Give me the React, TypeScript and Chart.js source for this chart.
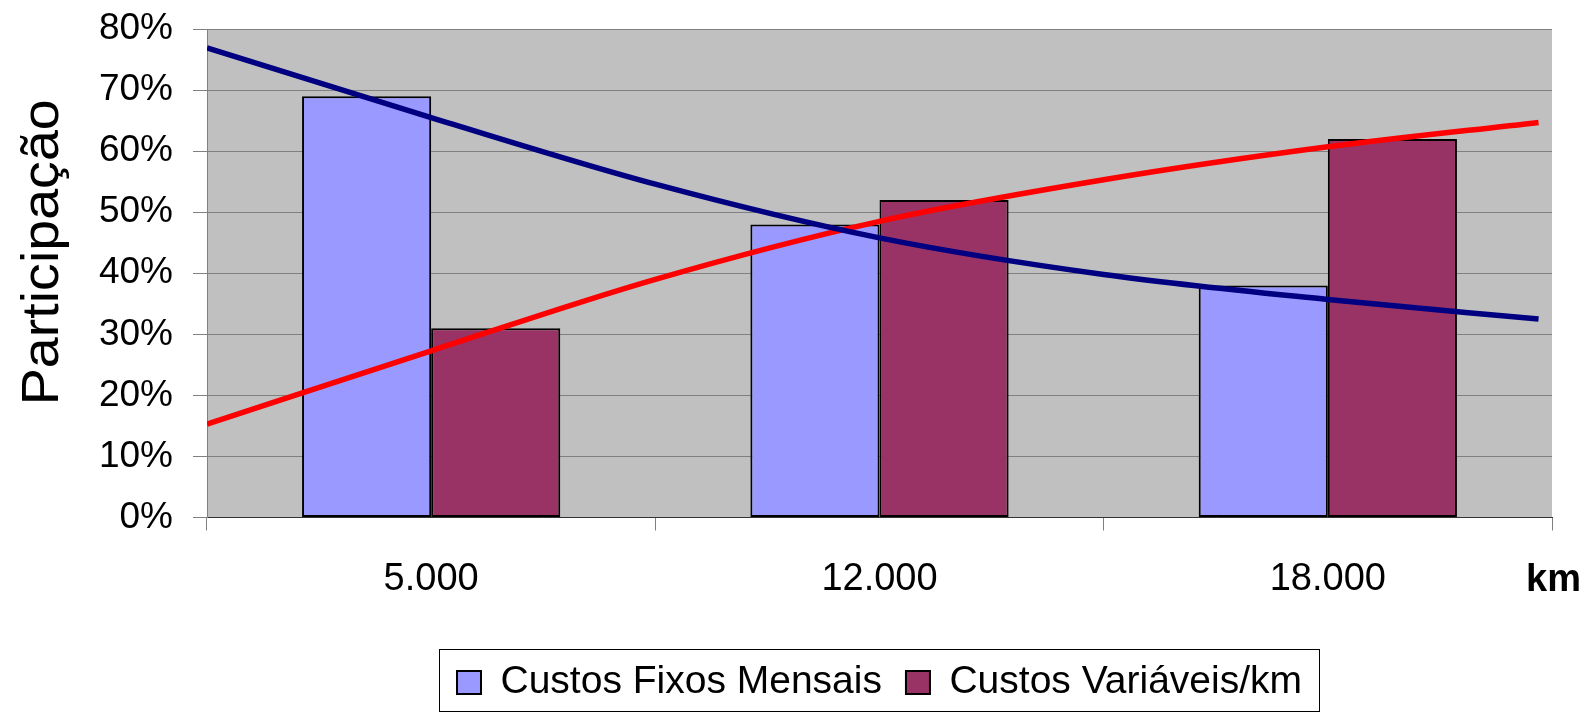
import React, { useEffect, useRef } from 'react';
import { Chart, registerables } from 'chart.js';

Chart.register(...registerables);

const categories = ['5.000', '12.000', '18.000'];
const seriesNames = ['Custos Fixos Mensais', 'Custos Variáveis/km'];
const fixedCosts = [69, 48, 38];
const variableCosts = [31, 52, 62];
// trend lines at category-index positions
const trendX = [-0.5, 0, 0.5, 1, 1.5, 2, 2.47];
const fixedTrend = [76.9, 65.5, 54.6, 45.8, 39.8, 35.7, 32.5];
const variableTrend = [15.3, 27.3, 39.0, 48.5, 55.3, 60.7, 64.7];
const yAxisTitle = 'Participação';
const xAxisTitle = 'km';
const yMin = 0;
const yMax = 80;
const yStep = 10;

const FONT = '"Liberation Sans", Arial, Helvetica, sans-serif';
const W = 1592;
const H = 712;
const PAD_TOP = 29;
const PAD_RIGHT = 40;
const Y_AXIS_W = 207;
const X_AXIS_H = 121.5;
const LEGEND_PAD = 24;
const LEGEND_FONT = 39;
const LEGEND_H = LEGEND_FONT + LEGEND_PAD + 10;

const plotBg = {
  id: 'plotBg',
  beforeDraw(chart: any) {
    const { ctx, chartArea: a } = chart;
    ctx.save();
    ctx.fillStyle = '#C0C0C0';
    ctx.fillRect(a.left, a.top, a.right - a.left, a.bottom - a.top);
    ctx.restore();
  },
};

const extras = {
  id: 'extras',
  afterDraw(chart: any) {
    const { ctx, chartArea: a } = chart;
    // y axis title
    ctx.save();
    ctx.fillStyle = '#000';
    ctx.font = `52px ${FONT}`;
    const w = ctx.measureText(yAxisTitle).width;
    ctx.translate(a.left - 149, (a.top + a.bottom) / 2 - 21);
    ctx.rotate(-Math.PI / 2);
    ctx.scale(306 / w, 1);
    ctx.textAlign = 'center';
    ctx.textBaseline = 'alphabetic';
    ctx.fillText(yAxisTitle, 0, 0);
    ctx.restore();
    // x axis unit
    ctx.save();
    ctx.fillStyle = '#000';
    ctx.font = `bold 38px ${FONT}`;
    ctx.textAlign = 'left';
    ctx.textBaseline = 'alphabetic';
    ctx.fillText(xAxisTitle, a.right - 26, a.bottom + 73);
    ctx.restore();
    // legend frame
    const lg = chart.legend;
    if (lg && lg.legendHitBoxes && lg.legendHitBoxes.length) {
      const hb = lg.legendHitBoxes;
      const l = Math.min(...hb.map((h: any) => h.left));
      const r = Math.max(...hb.map((h: any) => h.left + h.width));
      const t = Math.min(...hb.map((h: any) => h.top));
      const b = Math.max(...hb.map((h: any) => h.top + h.height));
      const cy = (t + b) / 2;
      ctx.save();
      ctx.strokeStyle = '#000';
      ctx.lineWidth = 1;
      ctx.strokeRect(Math.round(l - 18) + 0.5, Math.round(cy - 34) + 0.5, Math.round(r - l + 35), 62);
      ctx.restore();
    }
  },
};

export default function App() {
  const barRef = useRef<HTMLCanvasElement>(null);
  const lineRef = useRef<HTMLCanvasElement>(null);
  useEffect(() => {
    const c1 = barRef.current;
    const c2 = lineRef.current;
    if (!c1 || !c2) return;
    const barChart = new Chart(c1, {
      type: 'bar',
      data: {
        labels: categories,
        datasets: [
          {
            label: seriesNames[0],
            data: fixedCosts,
            backgroundColor: '#9999FF',
            borderColor: '#000000',
            borderWidth: 2,
            borderSkipped: false,
            categoryPercentage: 0.576,
            barPercentage: 1,
          },
          {
            label: seriesNames[1],
            data: variableCosts,
            backgroundColor: '#993366',
            borderColor: '#000000',
            borderWidth: 2,
            borderSkipped: false,
            categoryPercentage: 0.576,
            barPercentage: 1,
          },
        ],
      },
      options: {
        responsive: false,
        animation: false,
        devicePixelRatio: 1,
        layout: { padding: { top: PAD_TOP, right: PAD_RIGHT, left: 0, bottom: 0 } },
        plugins: {
          tooltip: { enabled: false },
          title: { display: false },
          legend: {
            display: true,
            position: 'bottom',
            fullSize: false,
            labels: {
              boxWidth: 24,
              boxHeight: 23,
              padding: LEGEND_PAD,
              color: '#000',
              font: { family: FONT, size: LEGEND_FONT, lineHeight: 1 },
            },
          },
        },
        scales: {
          x: {
            type: 'category',
            offset: true,
            afterFit: (s: any) => {
              s.height = X_AXIS_H;
            },
            grid: {
              display: true,
              drawOnChartArea: false,
              drawTicks: true,
              tickLength: 13,
              offset: true,
              color: '#808080',
              lineWidth: 1,
            },
            border: { display: true, color: '#333333', width: 1 },
            ticks: {
              color: '#000',
              font: { family: FONT, size: 38 },
              padding: 26,
              maxRotation: 0,
              autoSkip: false,
            },
          },
          y: {
            type: 'linear',
            min: yMin,
            max: yMax,
            afterFit: (s: any) => {
              s.width = Y_AXIS_W;
            },
            grid: {
              color: '#808080',
              lineWidth: 1,
              drawTicks: true,
              tickLength: 14,
            },
            border: { display: true, color: '#808080', width: 1 },
            ticks: {
              stepSize: yStep,
              color: '#000',
              font: { family: FONT, size: 37, lineHeight: 0.4 },
              padding: 20,
              callback: (v: any) => `${v}%`,
            },
          },
        },
      } as any,
      plugins: [plotBg, extras],
    });

    // trend lines overlay, laid out on exactly the same plot area
    const plotBottom = H - LEGEND_H - X_AXIS_H;
    const lineChart = new Chart(c2, {
      type: 'line',
      data: {
        datasets: [
          {
            label: 'Tendência ' + seriesNames[0],
            data: trendX.map((x, i) => ({ x, y: fixedTrend[i] })),
            borderColor: '#000080',
            borderWidth: 5.5,
            pointRadius: 0,
            cubicInterpolationMode: 'monotone',
            fill: false,
          },
          {
            label: 'Tendência ' + seriesNames[1],
            data: trendX.map((x, i) => ({ x, y: variableTrend[i] })),
            borderColor: '#FF0000',
            borderWidth: 5.5,
            pointRadius: 0,
            cubicInterpolationMode: 'monotone',
            fill: false,
          },
        ],
      },
      options: {
        responsive: false,
        animation: false,
        devicePixelRatio: 1,
        layout: {
          padding: { top: PAD_TOP, right: PAD_RIGHT, left: Y_AXIS_W, bottom: H - plotBottom },
        },
        plugins: {
          tooltip: { enabled: false },
          legend: { display: false },
          title: { display: false },
        },
        scales: {
          x: { type: 'linear', display: false, min: -0.5, max: 2.5 },
          y: { type: 'linear', display: false, min: yMin, max: yMax },
        },
      } as any,
    });
    return () => {
      barChart.destroy();
      lineChart.destroy();
    };
  }, []);

  return (
    <div
      style={{
        position: 'fixed',
        left: 0,
        top: 0,
        width: W,
        height: 713,
        overflow: 'hidden',
        background: '#fff',
      }}
    >
      <canvas
        ref={barRef}
        width={W}
        height={H}
        style={{ position: 'absolute', left: 0, top: 0, width: W, height: H }}
      />
      <canvas
        ref={lineRef}
        width={W}
        height={H}
        style={{ position: 'absolute', left: 0, top: 0, width: W, height: H, pointerEvents: 'none' }}
      />
    </div>
  );
}
